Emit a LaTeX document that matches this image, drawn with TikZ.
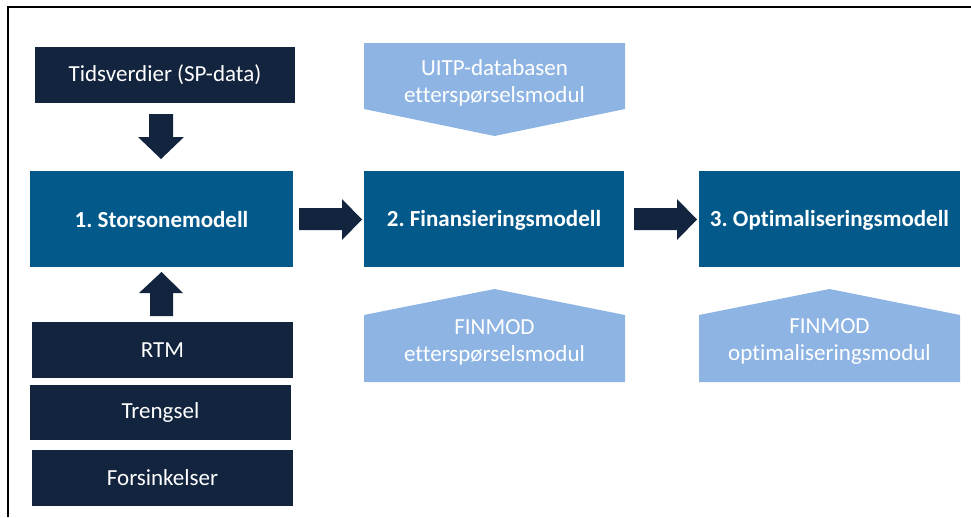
\documentclass[tikz,border=0pt]{standalone}
\usepackage{fontspec}
\setmainfont[Ligatures=NoCommon]{Carlito}
\frenchspacing
\usetikzlibrary{calc}
\definecolor{navy}{HTML}{13243F}
\definecolor{midblue}{HTML}{02598A}
\definecolor{lightblue}{HTML}{8EB4E3}
\tikzset{
  darkbox/.style={fill=navy, text=white, font=\fontsize{23}{27}\selectfont, inner sep=0pt},
  modelbox/.style={fill=midblue, text=white, font=\fontsize{23}{27}\selectfont\bfseries, inner sep=0pt},
  lighttext/.style={text=white, font=\fontsize{23}{27}\selectfont, align=center, inner sep=0pt},
  blockarrow/.style={fill=navy},
  pent/.style={fill=lightblue}
}
\begin{document}
\begin{tikzpicture}[x=1pt,y=-1pt]
\useasboundingbox (0,0) rectangle (971,517);
% frame
\draw[line width=2pt, black] (8,517) -- (8,7) -- (971,7);
% nodes (rectangles by corners)
\path[darkbox] (35,47) rectangle (295,103);
\node[darkbox, fill=none] (tid) at (165,75) {Tidsverdier (SP-data)};
\path[modelbox] (30,171) rectangle (293,267);
\node[modelbox, fill=none] (m1) at (161.5,220) {1. Storsonemodell};
\path[modelbox] (364,171) rectangle (624,267);
\node[modelbox, fill=none] (m2) at (494,220) {2. Finansieringsmodell};
\path[modelbox] (699,171) rectangle (960,267);
\node[modelbox, fill=none] (m3) at (829.5,220) {3. Optimaliseringsmodell};
\path[darkbox] (32,322) rectangle (293,378);
\node[darkbox, fill=none] (rtm) at (162.5,350) {RTM};
\path[darkbox] (30,385) rectangle (291,440);
\node[darkbox, fill=none] (tr) at (160.5,412.5) {Trengsel};
\path[darkbox] (32,450) rectangle (293,506);
\node[darkbox, fill=none] (fo) at (162.5,478) {Forsinkelser};
% pentagons
\fill[pent] (364,43) -- (625,43) -- (625,109) -- (494.5,136) -- (364,109) -- cycle;
\node[lighttext] (uitp) at (494.5,83) {UITP-databasen\\etterspørselsmodul};
\fill[pent] (364,382) -- (625,382) -- (625,315) -- (494.5,289) -- (364,315) -- cycle;
\node[lighttext] (fin2) at (494.5,342) {FINMOD\\etterspørselsmodul};
\fill[pent] (699,382) -- (960,382) -- (960,315) -- (829.5,289) -- (699,315) -- cycle;
\node[lighttext] (fin3) at (829.5,342) {FINMOD\\optimaliseringsmodul};
% block arrows
\fill[blockarrow] (149,114) -- (173,114) -- (173,137) -- (184,137) -- (161,159) -- (138,137) -- (149,137) -- cycle;
\fill[blockarrow] (150,316) -- (173,316) -- (173,293) -- (183,293) -- (161.5,272) -- (139,293) -- (150,293) -- cycle;
\fill[blockarrow] (299,208) -- (342,208) -- (342,199) -- (362,219.5) -- (342,240) -- (342,230) -- (299,230) -- cycle;
\fill[blockarrow] (634,208) -- (677,208) -- (677,199) -- (697,219.5) -- (677,240) -- (677,230) -- (634,230) -- cycle;
\end{tikzpicture}
\end{document}
